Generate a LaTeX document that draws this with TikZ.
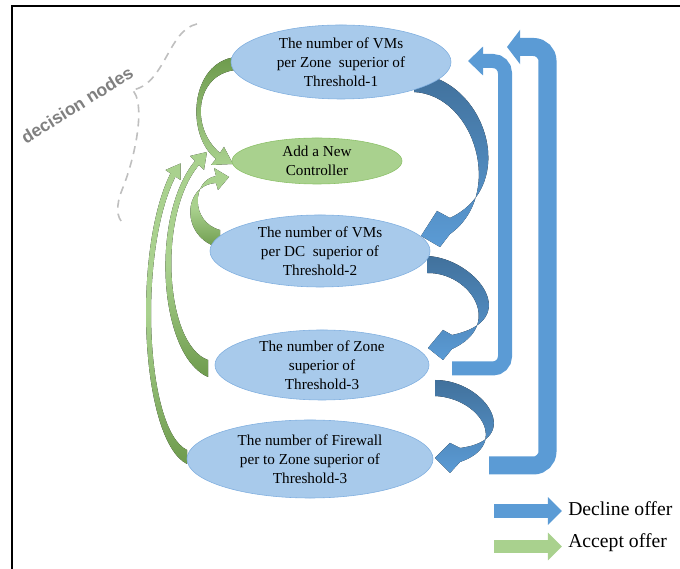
\documentclass[tikz,border=0pt]{standalone}
\usepackage{fontspec}
\setmainfont{Liberation Serif}
\setsansfont{Liberation Sans}
\usepackage{xcolor}
\usetikzlibrary{arrows.meta,shapes.geometric}
\definecolor{cNode}{HTML}{A8CAEB}
\definecolor{cNodeLine}{HTML}{7FAEDF}
\definecolor{cCtrl}{HTML}{A9D18E}
\definecolor{cCtrlLine}{HTML}{8CC068}
\definecolor{cDecline}{HTML}{5B9BD5}
\definecolor{cDeclineDark}{HTML}{41719C}
\definecolor{cAccept}{HTML}{A9D18E}
\definecolor{cAcceptDark}{HTML}{6E9B4D}
\definecolor{cNote}{HTML}{808080}
\definecolor{cDash}{HTML}{BFBFBF}

\begin{document}
\begin{tikzpicture}[x=0.025cm, y=-0.025cm,
  every node/.style={font=\fontsize{10.8}{13.5}\selectfont},
  decision/.style={ellipse, draw=cNodeLine, fill=cNode, align=center, inner sep=0pt},
  action/.style={ellipse, draw=cCtrlLine, fill=cCtrl, align=center, inner sep=0pt},
  bent/.style={draw=cDecline, rounded corners=0.3cm},
  decline/.style={top color=cDeclineDark, bottom color=cDecline},
  acceptdown/.style={top color=cAcceptDark, bottom color=cAccept},
  acceptup/.style={top color=cAccept, bottom color=cAcceptDark, middle color=cAccept},
  legend/.style={font=\fontsize{14}{16}\selectfont, anchor=west, inner sep=0pt},
]

\useasboundingbox (0,0) rectangle (680,569);
\draw[line width=0.05cm] (680,6) -- (12,6) -- (12,569);

% decline: curved arrows from one test to the next
\fill[decline] (418,74) .. controls (485,80) and (520,185) .. (450,218)
  -- (437,211) -- (421,236) -- (440,247) -- (450,234)
  .. controls (505,195) and (475,95) .. (414,92) -- cycle;
\fill[decline] (427,256) .. controls (475,258) and (525,320) .. (452,335)
  -- (443,330) -- (428,348) -- (443,360) -- (452,349)
  .. controls (505,325) and (470,272) .. (427,273) -- cycle;
\fill[decline] (435,380) .. controls (485,380) and (525,440) .. (460,448)
  -- (450,443) -- (435,458) -- (450,473) -- (460,462)
  .. controls (510,445) and (480,398) .. (435,396) -- cycle;

% decline: long way back to the top
\draw[bent, line width=0.35cm, -{Triangle[length=0.375cm, width=0.7cm]}]
  (452,368.5) -- (505,368.5) -- (505,61) -- (468,61);
\draw[bent, line width=0.45cm, rounded corners=0.35cm, -{Triangle[length=0.33cm, width=0.85cm]}]
  (489,465.5) -- (547.5,465.5) -- (547.5,47) -- (507,47);

% accept: every test can call for a new controller
\fill[acceptdown] (236,57) .. controls (190,62) and (185,135) .. (216,159)
  -- (211,165) -- (233,164) -- (224,147) -- (220,153)
  .. controls (190,128) and (195,74) .. (236,70) -- cycle;
\fill[acceptup] (220,248) .. controls (180,238) and (182,185) .. (216,183)
  -- (218,190) -- (229,177) -- (214,168) -- (216,176)
  .. controls (192,180) and (190,222) .. (220,230) -- cycle;
\fill[acceptup] (208,377) .. controls (158,355) and (150,215) .. (195,161)
  -- (190,156) -- (207,152) -- (204,170) -- (199,165)
  .. controls (157,215) and (165,345) .. (208,360) -- cycle;
\fill[acceptup] (187,464) .. controls (140,440) and (132,250) .. (170.5,173.4)
  -- (165.5,170) -- (180.7,163.4) -- (180.5,180) -- (175.5,176.6)
  .. controls (138,250) and (145,430) .. (187,450) -- cycle;

\node[decision, minimum width=5.5cm, minimum height=1.85cm] (vmzone) at (341,62)
  {The number of VMs\\per Zone\ \ superior of\\Threshold-1};
\node[action, minimum width=4.25cm, minimum height=1.15cm] (ctrl) at (317,161)
  {Add a New\\Controller};
\node[decision, minimum width=5.5cm, minimum height=1.8cm] (vmdc) at (320,251)
  {The number of VMs\\per DC\ \ superior of\\Threshold-2};
\node[decision, minimum width=5.35cm, minimum height=1.75cm] (zone) at (322,365)
  {The number of Zone\\superior of\\Threshold-3};
\node[decision, minimum width=6.15cm, minimum height=1.95cm] (fw) at (310,459)
  {The number of Firewall\\per to Zone superior of\\Threshold-3};

% bracket around the decision nodes
\draw[cDash, line width=0.04cm, dash pattern=on 0.2cm off 0.15cm]
  (197,24) .. controls (168,30) and (165,85) .. (132,90)
  .. controls (145,100) and (138,150) .. (122,190)
  .. controls (116,205) and (116,218) .. (124,224);
\node[font=\sffamily\bfseries\fontsize{12.5}{14}\selectfont, text=cNote, rotate=32] (note) at (77,105) {decision nodes};

% legend
\draw[draw=cDecline, line width=0.35cm, -{Triangle[length=0.35cm, width=0.675cm]}] (494,511) -- (562,511);
\draw[draw=cAccept, line width=0.325cm, -{Triangle[length=0.35cm, width=0.675cm]}] (494,546.5) -- (562,546.5);
\node[legend] (declinetxt) at (568,509) {Decline offer};
\node[legend] (accepttxt) at (568,543) {Accept offer};

\end{tikzpicture}
\end{document}
